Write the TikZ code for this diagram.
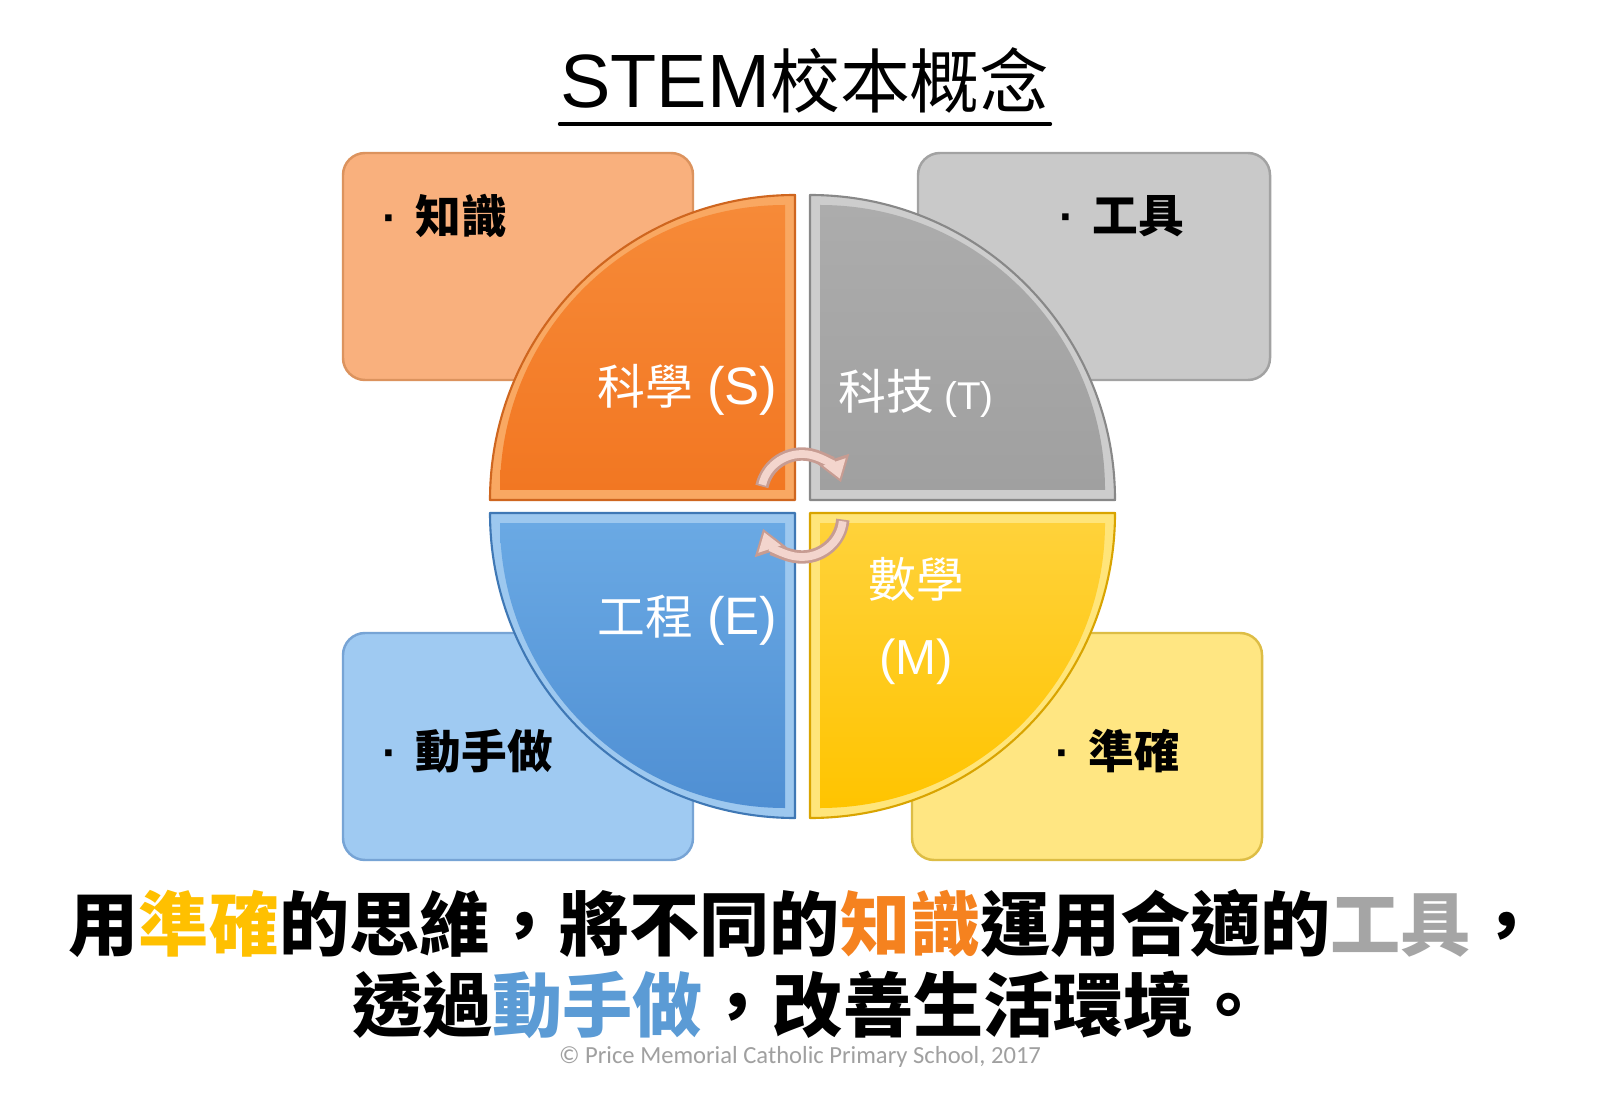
\documentclass[tikz,border=0pt]{standalone}
\usepackage{fontspec}
\setmainfont{Noto Sans CJK TC}
\newfontfamily\latinfont{Liberation Sans}
\newfontfamily\notefont{Carlito}
\usepackage{tikz}
\usetikzlibrary{arrows.meta,calc,positioning}
% quadrant faces: rim, face top, face bottom, edge
\definecolor{qoL}{HTML}{F9A862}
\definecolor{qoA}{HTML}{F68A38}
\definecolor{qoB}{HTML}{F27722}
\definecolor{qoE}{HTML}{CF661F}
\definecolor{qgL}{HTML}{CDCDCD}
\definecolor{qgA}{HTML}{ACACAC}
\definecolor{qgB}{HTML}{A0A0A0}
\definecolor{qgE}{HTML}{888888}
\definecolor{qbL}{HTML}{9DC8EF}
\definecolor{qbA}{HTML}{6AA9E4}
\definecolor{qbB}{HTML}{4F8FD3}
\definecolor{qbE}{HTML}{3F78B5}
\definecolor{qyL}{HTML}{FFE57A}
\definecolor{qyA}{HTML}{FFD23A}
\definecolor{qyB}{HTML}{FFC400}
\definecolor{qyE}{HTML}{D9A400}
% side boxes
\definecolor{boxorange}{HTML}{F9B07D}
\definecolor{boxorangeE}{HTML}{DC935E}
\definecolor{boxgray}{HTML}{C9C9C9}
\definecolor{boxgrayE}{HTML}{A2A2A2}
\definecolor{boxblue}{HTML}{9FCAF2}
\definecolor{boxblueE}{HTML}{77A4D5}
\definecolor{boxyellow}{HTML}{FFE682}
\definecolor{boxyellowE}{HTML}{DDBD45}
% words picked out in the sentence
\definecolor{hlgold}{HTML}{FFC000}
\definecolor{hlorange}{HTML}{F5821F}
\definecolor{hlgray}{HTML}{A5A5A5}
\definecolor{hlblue}{HTML}{5B9BD5}
\definecolor{notegray}{HTML}{A0A0A0}
\definecolor{loopfill}{HTML}{F3D5CD}
\definecolor{loopedge}{HTML}{C79C92}
\newcommand{\bul}{{\latinfont\textperiodcentered}\hspace{0.18cm}}

\begin{document}
\begin{tikzpicture}[line cap=round, line join=round, >=Stealth,
  every node/.style={inner sep=0pt},
  box/.style={draw, line width=0.7pt, rounded corners=0.22cm,
    minimum width=3.5cm, minimum height=2.27cm},
  boxlabel/.style={anchor=west, font=\fontsize{13}{15}\selectfont\bfseries},
  quadlabel/.style={text=white, font=\fontsize{13.6}{22}\selectfont},
  sentence/.style={font=\fontsize{19.95}{24}\selectfont\bfseries},
  looprim/.style={line cap=butt, line width=3.8pt, draw=loopedge,
    -{Triangle[width=9pt,length=7pt]}},
  loopface/.style={line cap=butt, line width=2.2pt, draw=loopfill,
    shorten >=1.1pt, shorten <=0.5pt, -{Triangle[width=6.4pt,length=5pt]}}]
  \path[use as bounding box, fill=white] (0,0) rectangle (16,11.08);
  % 1 unit = 100 px of the slide, y counted up from the bottom edge.
  \node[anchor=base] (title) at (8.05,10.00)
    {{\latinfont\fontsize{21.5}{26}\selectfont STEM}\fontsize{19.9}{23}\selectfont 校本概念};
  \draw[line width=0.9pt] ($(title.base west)+(0,-0.16)$)
    -- ($(title.base east)+(0,-0.16)$);
  \node[box, fill=boxorange, draw=boxorangeE] (knowbox) at (5.18,8.415) {};
  \node[box, fill=boxgray, draw=boxgrayE, minimum width=3.52cm] (toolbox)
    at (10.94,8.415) {};
  \node[box, fill=boxblue, draw=boxblueE] (handbox) at (5.18,3.615) {};
  \node[box, fill=boxyellow, draw=boxyellowE] (exactbox) at (10.87,3.615) {};
  % quadrants: light rim, then the face inset by 0.1
  \foreach \cx/\cy/\a/\dx/\dy/\rim/\fa/\fb/\ed in {
      7.95/6.08/180/-0.1/0.1/qoL/qoA/qoB/qoE,
      8.10/6.08/90/0.1/0.1/qgL/qgA/qgB/qgE,
      7.95/5.95/270/-0.1/-0.1/qbL/qbA/qbB/qbE,
      8.10/5.95/0/0.1/-0.1/qyL/qyA/qyB/qyE} {
    \filldraw[fill=\rim, draw=\ed, line width=0.6pt] (\cx,\cy) -- ++(\a:3.05)
      arc[start angle=\a, end angle=\a-90, radius=3.05] -- cycle;
    \shade[top color=\fa, bottom color=\fb] ($(\cx,\cy)+(\dx,\dy)$) -- ++(\a:2.85)
      arc[start angle=\a, end angle=\a-90, radius=2.85] -- cycle;
  }
  \node[boxlabel] (know) at ($(knowbox.north west)+(0.40,-0.64)$) {\bul 知識};
  \node[boxlabel] (tool) at ($(toolbox.north west)+(1.42,-0.64)$) {\bul 工具};
  \node[boxlabel] (hand) at ($(handbox.south west)+(0.40,1.10)$) {\bul 動手做};
  \node[boxlabel] (exact) at ($(exactbox.south west)+(1.44,1.10)$) {\bul 準確};
  \node[quadlabel, anchor=east] (sci) at (7.78,7.18)
    {科學\hspace{0.14cm}{\latinfont\fontsize{15}{18}\selectfont(S)}};
  \node[quadlabel, anchor=west] (tech) at (8.38,7.15)
    {科技\hspace{0.1cm}{\latinfont\fontsize{11}{13}\selectfont(T)}};
  \node[quadlabel, anchor=east] (eng) at (7.78,4.88)
    {工程\hspace{0.14cm}{\latinfont\fontsize{15}{18}\selectfont(E)}};
  \node[quadlabel, align=center] (math) at (9.16,4.87)
    {數學\\{\latinfont\fontsize{14}{18}\selectfont(M)}};
  % turning arrows in the middle
  \coordinate (topc) at (8.02,6.13);
  \coordinate (botc) at (8.02,5.92);
  \draw[looprim] ([shift={(168:0.41)}]topc) arc[start angle=168, end angle=18, radius=0.41];
  \draw[loopface] ([shift={(168:0.41)}]topc) arc[start angle=168, end angle=18, radius=0.41];
  \draw[looprim] ([shift={(-5:0.41)}]botc) arc[start angle=-5, end angle=-162, radius=0.41];
  \draw[loopface] ([shift={(-5:0.41)}]botc) arc[start angle=-5, end angle=-162, radius=0.41];
  \node[sentence] (line1) at (8.05,1.85)
    {用{\color{hlgold}準確}的思維，將不同的{\color{hlorange}知識}運用合適的{\color{hlgray}工具}，};
  \node[sentence] (line2) at (8.08,1.03)
    {透過{\color{hlblue}動手做}，改善生活環境。};
  \node[text=notegray, font=\notefont\fontsize{7}{8}\selectfont] (credit) at (8.00,0.51)
    {© Price Memorial Catholic Primary School, 2017};
\end{tikzpicture}
\end{document}
